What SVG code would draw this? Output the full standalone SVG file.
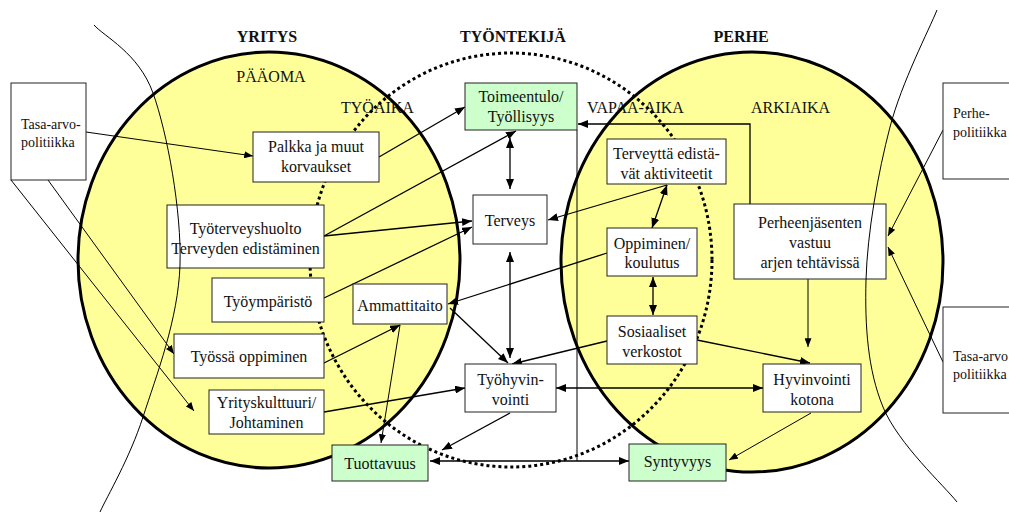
<svg xmlns="http://www.w3.org/2000/svg" width="1009" height="514" viewBox="0 0 1009 514" font-family="'Liberation Serif', 'DejaVu Serif', serif">
<defs>
<marker id="a" viewBox="0 0 10 8" refX="10" refY="4" markerWidth="10" markerHeight="8" orient="auto-start-reverse" markerUnits="userSpaceOnUse"><path d="M0,0 L10,4 L0,8 z" fill="#000"/></marker>
<marker id="b" viewBox="0 0 10 8" refX="10" refY="4" markerWidth="9" markerHeight="7" orient="auto-start-reverse" markerUnits="userSpaceOnUse"><path d="M0,0 L10,4 L0,8 z" fill="#000"/></marker>
<style>
text{font-family:'Liberation Serif','DejaVu Serif',serif;font-size:16px;fill:#111}
.h{font-weight:bold}
.c{text-anchor:middle}
.p{font-size:14px}
.box rect{fill:#fff;stroke:#222;stroke-width:1}
.box.g rect{fill:#ccffcc}
.cn line,.cn polyline{stroke:#000;stroke-width:1.3;fill:none}
.cn .t{stroke-width:1}
.m{marker-end:url(#a)}
.d{marker-start:url(#a);marker-end:url(#a)}
.mt{marker-end:url(#b)}
.arc{fill:none;stroke:#000;stroke-width:1}
</style>
</defs>
<rect width="1009" height="514" fill="#fff"/>
<g id="circles">
<ellipse cx="269" cy="260" rx="191" ry="208" fill="#ffff99"/>
<ellipse cx="752" cy="262" rx="191" ry="210" fill="#ffff99"/>
</g>
<g id="labels">
<text class="h c" x="267" y="42">YRITYS</text>
<text class="h c" x="513" y="42">TYÖNTEKIJÄ</text>
<text class="h c" x="741" y="42">PERHE</text>
<text class="c" x="271" y="82">PÄÄOMA</text>
<text x="341" y="113">TYÖAIKA</text>
<text x="587" y="113">VAPAA-AIKA</text>
<text x="751" y="113">ARKIAIKA</text>
</g>
<g id="circle-outlines">
<ellipse cx="269" cy="260" rx="191" ry="208" fill="none" stroke="#000" stroke-width="3"/>
<ellipse cx="752" cy="262" rx="191" ry="210" fill="none" stroke="#000" stroke-width="3"/>
<ellipse cx="511" cy="260" rx="201" ry="207" fill="none" stroke="#000" stroke-width="3" stroke-dasharray="3 3"/>
</g>
<g id="connectors" class="cn">
<line class="m" x1="379" y1="157" x2="465" y2="107"/>
<line class="m" x1="324" y1="236" x2="516" y2="131"/>
<line class="m" x1="324" y1="236" x2="472" y2="221"/>
<line class="m" x1="324" y1="298" x2="472" y2="227"/>
<line class="d" x1="510" y1="138" x2="510" y2="189"/>
<line class="d" x1="510" y1="252" x2="510" y2="358"/>
<line class="m" x1="667" y1="185" x2="548" y2="220"/>
<line class="d" x1="667" y1="185" x2="652" y2="228"/>
<line class="d" x1="653" y1="277" x2="653" y2="315"/>
<line class="m" x1="607" y1="253" x2="448" y2="304"/>
<line class="m" x1="450" y1="308" x2="508" y2="363"/>
<line class="m" x1="607" y1="341" x2="512" y2="364"/>
<line class="m" x1="697" y1="340" x2="810" y2="363"/>
<line class="m" x1="324" y1="412" x2="465" y2="388"/>
<line class="m" x1="324" y1="363" x2="400" y2="325"/>
<line class="m" x1="510" y1="413" x2="442" y2="450"/>
<line class="d" x1="556" y1="388" x2="763" y2="388"/>
<line class="d" x1="430" y1="461" x2="629" y2="461"/>
<polyline class="m" points="750,204 750,124 578,124"/>
<line class="t mt" x1="86" y1="132" x2="253" y2="156"/>
<line class="t mt" x1="11" y1="180" x2="194" y2="411"/>
<line class="t mt" x1="48" y1="180" x2="174" y2="354"/>
<line class="t mt" x1="400" y1="325" x2="381" y2="443"/>
<line class="t" x1="577" y1="130" x2="577" y2="461"/>
<line class="t mt" x1="808" y1="279" x2="808" y2="347"/>
<line class="t mt" x1="811" y1="413" x2="729" y2="460"/>
<line class="t mt" x1="943" y1="130" x2="888" y2="236"/>
<line class="t mt" x1="943" y1="362" x2="888" y2="247"/>
</g>
<g id="n-tasa-left" class="box"><rect x="11" y="83" width="75" height="97"/><text class="p" x="21" y="129">Tasa-arvo-</text><text class="p" x="21" y="147">politiikka</text></g>
<g id="n-palkka" class="box"><rect x="253" y="132" width="126" height="50"/><text class="c" x="316" y="152">Palkka ja muut</text><text class="c" x="316" y="172">korvaukset</text></g>
<g id="n-toimeentulo" class="box g"><rect x="465" y="83" width="112" height="47"/><text class="c" x="521" y="102">Toimeentulo/</text><text class="c" x="521" y="122">Työllisyys</text></g>
<g id="n-terveys" class="box"><rect x="473" y="195" width="74" height="49"/><text class="c" x="510" y="226">Terveys</text></g>
<g id="n-tyoterveys" class="box"><rect x="167" y="205" width="157" height="63"/><text class="c" x="245.5" y="234">Työterveyshuolto</text><text class="c" x="245.5" y="254">Terveyden edistäminen</text></g>
<g id="n-tyoymparisto" class="box"><rect x="212" y="278" width="112" height="44"/><text class="c" x="268" y="307">Työympäristö</text></g>
<g id="n-ammattitaito" class="box"><rect x="353" y="284" width="94" height="40"/><text class="c" x="400" y="311">Ammattitaito</text></g>
<g id="n-tyossa" class="box"><rect x="174" y="334" width="150" height="44"/><text class="c" x="249" y="362">Työssä oppiminen</text></g>
<g id="n-yrityskulttuuri" class="box"><rect x="209" y="390" width="115" height="44"/><text class="c" x="266.5" y="408">Yrityskulttuuri/</text><text class="c" x="266.5" y="428">Johtaminen</text></g>
<g id="n-tuottavuus" class="box g"><rect x="332" y="445" width="96" height="36"/><text class="c" x="380" y="469">Tuottavuus</text></g>
<g id="n-tyohyvinvointi" class="box"><rect x="465" y="364" width="91" height="48"/><text class="c" x="510.5" y="385">Työhyvin-</text><text class="c" x="510.5" y="405">vointi</text></g>
<g id="n-syntyvyys" class="box g"><rect x="629" y="444" width="97" height="37"/><text class="c" x="677.5" y="467">Syntyvyys</text></g>
<g id="n-hyvinvointi" class="box"><rect x="763" y="364" width="98" height="48"/><text class="c" x="812" y="385">Hyvinvointi</text><text class="c" x="812" y="405">kotona</text></g>
<g id="n-terveytta" class="box"><rect x="607" y="139" width="119" height="45"/><text class="c" x="666.5" y="159">Terveyttä edistä-</text><text class="c" x="666.5" y="179">vät aktiviteetit</text></g>
<g id="n-oppiminen" class="box"><rect x="607" y="228" width="90" height="48"/><text class="c" x="652" y="249">Oppiminen/</text><text class="c" x="652" y="268">koulutus</text></g>
<g id="n-sosiaaliset" class="box"><rect x="607" y="316" width="90" height="48"/><text class="c" x="652" y="337">Sosiaaliset</text><text class="c" x="652" y="357">verkostot</text></g>
<g id="n-perheenjasenten" class="box"><rect x="734" y="204" width="152" height="75"/><text class="c" x="810" y="228">Perheenjäsenten</text><text class="c" x="810" y="248">vastuu</text><text class="c" x="810" y="268">arjen tehtävissä</text></g>
<g id="n-perhepolitiikka" class="box"><rect x="943" y="83" width="80" height="96"/><text class="p" x="953" y="118">Perhe-</text><text class="p" x="953" y="137">politiikka</text></g>
<g id="n-tasa-right" class="box"><rect x="943" y="307" width="80" height="106"/><text class="p" x="953" y="361">Tasa-arvo</text><text class="p" x="953" y="379">politiikka</text></g>
<g id="arcs">
<path class="arc" d="M94,25 C103.8,36.3 138.7,53 153,93 C167.3,133 181.7,211 180,265 C178.3,319 156.3,375.8 143,417 C129.7,458.2 107.2,496.2 100,512"/>
<path class="arc" d="M937,10 C929.2,29.5 901.8,82 890,127 C878.2,172 867.2,233.3 866,280 C864.8,326.7 867.8,370 883,407 C898.2,444 944.7,486.2 957,502"/>
</g>
</svg>
